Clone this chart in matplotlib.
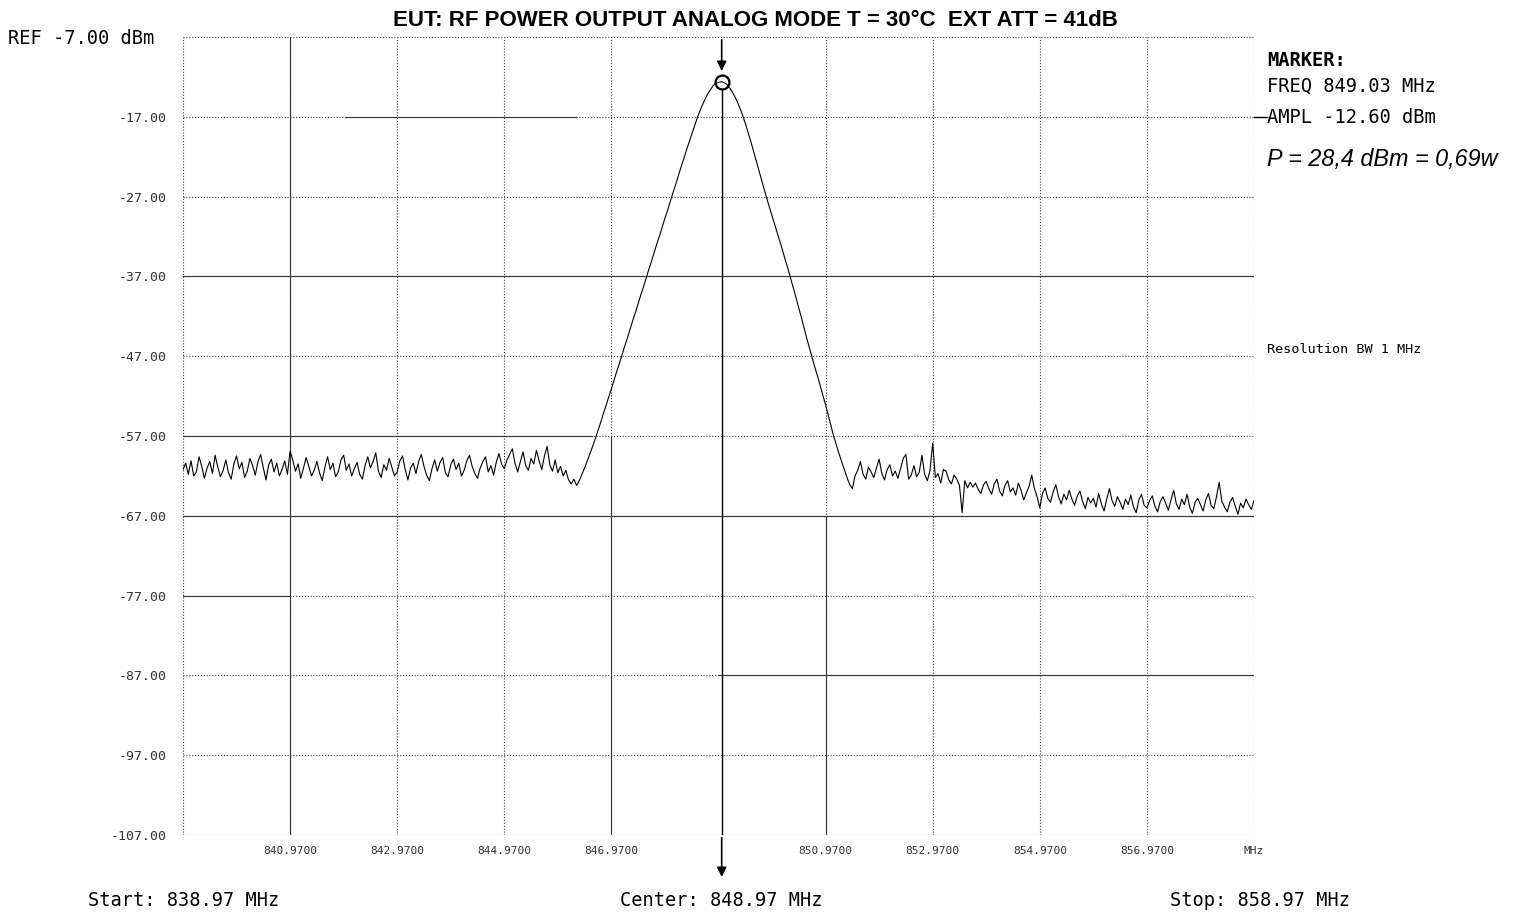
import numpy as np
import matplotlib
matplotlib.use("Agg")
import matplotlib.pyplot as plt

# sweep settings
START_MHZ = 838.97
STOP_MHZ = 858.97
CENTER_MHZ = 848.97
REF_DBM = -7.0
DB_PER_DIV = 10.0

# marker readout
marker_freq = 849.03
marker_ampl = -12.60

# trace levels (dBm), 0.05 MHz per point
noise_left = [
    -61.2, -60.4, -61.8, -60.1, -62.0, -61.5, -59.6, -60.8, -62.3, -61.0,
    -60.2, -61.7, -59.4, -60.9, -62.1, -61.3, -60.0, -61.6, -62.4, -60.5,
    -59.5, -61.1, -60.3, -62.2, -61.4, -59.8, -60.7, -61.9, -60.2, -59.3,
    -61.0, -62.5, -60.6, -59.9, -61.5, -60.4, -62.0, -61.2, -60.1, -61.8,
    -58.9, -60.0, -61.4, -60.5, -62.3, -61.0, -59.7, -60.8, -62.0, -61.3,
    -60.2, -61.6, -62.6, -60.9, -59.6, -61.2, -60.4, -62.1, -61.5, -60.0,
    -59.4, -61.3, -60.5, -62.0, -61.1, -60.3, -61.8, -62.4, -60.7, -59.6,
    -61.0, -60.2, -59.1, -61.4, -62.2, -60.6, -61.3, -59.8, -60.9, -62.0,
    -61.5, -60.1, -59.5, -61.2, -62.5, -61.0, -60.4, -61.7, -60.2, -59.3,
    -60.8, -61.9, -62.6, -61.1, -60.0, -61.4, -60.3, -59.7, -61.6, -62.1,
    -60.6, -59.9, -61.2, -60.4, -62.0, -61.3, -60.1, -59.4, -60.8, -61.7,
    -62.3, -61.0, -60.2, -59.6, -61.5, -60.7, -61.9, -60.3, -59.2, -60.5,
    -61.1, -60.0, -59.3, -58.6, -60.4, -61.5, -60.2, -59.0, -60.7, -61.3,
    -59.8, -60.5, -58.8, -60.1, -61.2, -59.5, -58.3, -60.6, -61.4, -60.0,
    -61.6, -60.8, -62.0, -61.3, -62.5, -63.0, -62.4, -63.2,
]

carrier = [
    -62.6, -61.8, -61.0, -60.1, -59.2, -58.3, -57.3, -56.3, -55.3, -54.2,
    -53.2, -52.1, -51.1, -50.0, -48.9, -47.9, -46.8, -45.7, -44.7, -43.6,
    -42.5, -41.5, -40.4, -39.3, -38.3, -37.2, -36.1, -35.1, -34.0, -32.9,
    -31.9, -30.8, -29.7, -28.7, -27.6, -26.5, -25.5, -24.4, -23.3, -22.3,
    -21.2, -20.2, -19.2, -18.2, -17.2, -16.3, -15.5, -14.8, -14.1, -13.6,
    -13.1, -12.8, -12.7, -12.6, -12.7, -12.9, -13.3, -13.8, -14.4, -15.1,
    -15.9, -16.8, -17.8, -18.9, -20.0, -21.2, -22.4, -23.6, -24.8, -26.0,
    -27.2, -28.3, -29.4, -30.5, -31.6, -32.7, -33.8, -35.0, -36.1, -37.3,
    -38.5, -39.7, -41.0, -42.2, -43.5, -44.8, -46.0, -47.2, -48.4, -49.5,
    -50.7, -51.9, -53.1, -54.4, -55.7, -57.0, -58.1, -59.2, -60.2, -61.2,
    -62.2, -63.1,
]

noise_right = [
    -63.6, -62.0, -61.3, -60.2, -61.8, -62.4, -60.9, -61.5, -62.2, -61.0,
    -59.9, -61.7, -62.5, -61.2, -60.6, -62.0, -61.4, -62.3, -61.1, -59.8,
    -59.3, -62.4, -61.9, -60.7, -62.1, -61.5, -59.4, -61.8, -62.6, -61.3,
    -57.9, -62.2, -61.7, -62.9, -61.2, -61.4, -62.5, -63.0, -61.9, -62.4,
    -63.2, -66.6, -62.6, -63.5, -62.8, -63.4, -62.9, -63.7, -64.2, -63.1,
    -62.7, -63.6, -64.3, -63.0, -62.4, -63.9, -64.5, -63.2, -62.6, -64.0,
    -63.5, -64.4, -62.9, -63.8, -65.0, -64.1, -63.3, -61.9, -63.6, -64.6,
    -66.0, -64.2, -63.5, -64.8, -65.3, -64.0, -63.1, -64.6, -65.5, -64.3,
    -65.0, -63.8, -64.9, -65.7, -64.5, -63.9, -65.2, -66.1, -64.7, -65.4,
    -64.8, -65.9, -64.2, -65.5, -66.4, -64.9, -63.6, -65.1, -65.8, -64.6,
    -65.3, -66.2, -64.9, -65.6, -64.4, -65.9, -66.6, -65.0, -64.3, -65.7,
    -66.0, -65.1, -64.5, -65.8, -66.5, -65.2, -64.6, -65.4, -66.3, -65.0,
    -63.8, -65.5, -66.2, -64.9, -65.6, -64.3, -65.9, -66.7, -65.3, -64.8,
    -65.6, -66.4, -65.0, -64.2, -65.7, -66.1, -64.6, -62.8, -65.2, -65.9,
    -66.5, -65.3, -64.7, -65.8, -66.8, -65.4, -66.0, -64.9, -65.6, -66.2,
    -65.1,
]

level = np.array(noise_left + carrier + noise_right)
freq = np.linspace(START_MHZ, STOP_MHZ, len(level))

x_ticks = [840.97, 842.97, 844.97, 846.97, 848.97, 850.97, 852.97, 854.97, 856.97, 858.97]
x_tick_labels = ["840.9700", "842.9700", "844.9700", "846.9700", "",
                 "850.9700", "852.9700", "854.9700", "856.9700", "MHz"]
y_ticks = [REF_DBM - DB_PER_DIV * k for k in range(11)]

MONO = "DejaVu Sans Mono"

fig = plt.figure(figsize=(15.3, 9.14), dpi=100)
fig.patch.set_facecolor("white")
ax = fig.add_axes([0.1196, 0.0864, 0.7, 0.8731])
ax.set_xlim(START_MHZ, STOP_MHZ)
ax.set_ylim(y_ticks[-1], y_ticks[0])

# dotted graticule (centre line is covered by the marker line)
dot = (0, (1, 1.6))
for xv in x_ticks + [START_MHZ]:
    if xv == CENTER_MHZ:
        continue
    ax.axvline(xv, color="#444444", lw=0.8, ls=dot, zorder=1)
for yv in y_ticks:
    ax.axhline(yv, color="#444444", lw=0.8, ls=dot, zorder=1)
for sp in ax.spines.values():
    sp.set_visible(False)

# parts of the graticule that printed solid
solid_h = [(-17.0, 842.0, 846.3), (-37.0, 838.97, 858.97), (-57.0, 838.97, 846.6),
           (-67.0, 838.97, 858.97), (-77.0, 838.97, 840.97), (-87.0, 848.97, 858.97)]
for yv, x0, x1 in solid_h:
    ax.plot([x0, x1], [yv, yv], color="#333333", lw=0.8, zorder=1.5)
solid_v = [(840.97, -107.0, -7.0), (846.97, -107.0, -57.0), (850.97, -107.0, -67.0)]
for xv, y0, y1 in solid_v:
    ax.plot([xv, xv], [y0, y1], color="#333333", lw=0.8, zorder=1.5)

ax.plot(freq, level, color="black", lw=0.8, zorder=3)

# marker
ax.plot([marker_freq], [marker_ampl], marker="o", ms=10, mfc="none",
        mec="black", mew=1.6, zorder=4)
ax.plot([marker_freq, marker_freq], [-107.0, marker_ampl - 1.0],
        color="black", lw=1.0, zorder=2)
ax.annotate("", xy=(marker_freq, marker_ampl + 1.0), xytext=(marker_freq, -7.0),
            arrowprops=dict(arrowstyle="-|>", color="black", lw=1.2,
                            mutation_scale=14), annotation_clip=False)
ax.annotate("", xy=(marker_freq, -112.6), xytext=(marker_freq, -107.0),
            arrowprops=dict(arrowstyle="-|>", color="black", lw=1.2,
                            mutation_scale=14), annotation_clip=False)
ax.plot([STOP_MHZ, STOP_MHZ + 0.25], [-17.0, -17.0], color="black", lw=1.0,
        clip_on=False)

ax.set_xticks(x_ticks)
ax.set_xticklabels(x_tick_labels, fontsize=8, family=MONO, color="#333333")
ax.set_yticks(y_ticks)
ax.set_yticklabels([""] + ["%.2f" % v for v in y_ticks[1:]], fontsize=9.5,
                   family=MONO, color="#333333")
ax.tick_params(length=0, pad=12)
ax.tick_params(axis="x", pad=8)

fig.text(0.4935, 0.978, "EUT: RF POWER OUTPUT ANALOG MODE T = 30°C  EXT ATT = 41dB",
         ha="center", va="center", fontsize=16, fontweight="bold",
         family="Liberation Sans")
fig.text(0.005, 0.958, "REF -7.00 dBm", ha="left", va="center", fontsize=13.5,
         family=MONO)

fig.text(0.0575, 0.015, "Start: 838.97 MHz", ha="left", va="center",
         fontsize=13.4, family=MONO)
fig.text(0.4712, 0.015, "Center: 848.97 MHz", ha="center", va="center",
         fontsize=13.4, family=MONO)
fig.text(0.7645, 0.015, "Stop: 858.97 MHz", ha="left", va="center",
         fontsize=13.4, family=MONO)

fig.text(0.828, 0.934, "MARKER:", ha="left", va="center", fontsize=13.5,
         fontweight="bold", family=MONO)
fig.text(0.828, 0.906, "FREQ %.2f MHz" % marker_freq, ha="left", va="center",
         fontsize=13.5, family=MONO)
fig.text(0.828, 0.871, "AMPL %.2f dBm" % marker_ampl, ha="left", va="center",
         fontsize=13.5, family=MONO)
fig.text(0.828, 0.826, "P = 28,4 dBm = 0,69w", ha="left", va="center",
         fontsize=16.8, style="italic", family="Liberation Sans")
fig.text(0.828, 0.618, "Resolution BW 1 MHz", ha="left", va="center",
         fontsize=9.7, family=MONO)

fig.savefig("out.png", dpi=100, facecolor="white")
